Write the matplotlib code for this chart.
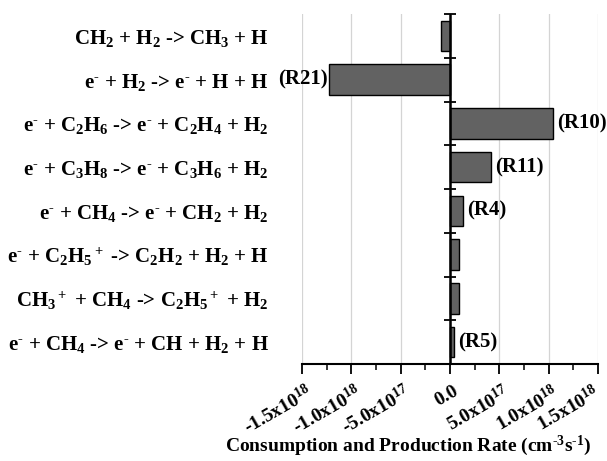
import matplotlib
matplotlib.use("Agg")
import matplotlib.pyplot as plt
import matplotlib.transforms as mtransforms
import numpy as np

plt.rcParams['font.family'] = ['Liberation Serif', 'DejaVu Serif']
plt.rcParams['font.weight'] = 'bold'
plt.rcParams['mathtext.fontset'] = 'custom'
plt.rcParams['mathtext.rm'] = 'Liberation Serif:bold'
plt.rcParams['mathtext.it'] = 'Liberation Serif:bold'
plt.rcParams['mathtext.bf'] = 'Liberation Serif:bold'
plt.rcParams['mathtext.default'] = 'rm'

reactions = [
    r'CH$_2$ + H$_2$ -> CH$_3$ + H',
    r'e$^{\text{-}}$ + H$_2$ -> e$^{\text{-}}$ + H + H',
    r'e$^{\text{-}}$ + C$_2$H$_6$ -> e$^{\text{-}}$ + C$_2$H$_4$ + H$_2$',
    r'e$^{\text{-}}$ + C$_3$H$_8$ -> e$^{\text{-}}$ + C$_3$H$_6$ + H$_2$',
    r'e$^{\text{-}}$ + CH$_4$ -> e$^{\text{-}}$ + CH$_2$ + H$_2$',
    r'e$^{\text{-}}$ + C$_2$H$_5$$^+$ -> C$_2$H$_2$ + H$_2$ + H',
    r'CH$_3$$^+$ + CH$_4$ -> C$_2$H$_5$$^+$ + H$_2$',
    r'e$^{\text{-}}$ + CH$_4$ -> e$^{\text{-}}$ + CH + H$_2$ + H',
]
rates = [-0.09e18, -1.23e18, 1.04e18, 0.42e18, 0.13e18, 0.095e18, 0.095e18, 0.045e18]
tags = ['', '(R21)', '(R10)', '(R11)', '(R4)', '', '', '(R5)']

xticks = [-1.5e18, -1.0e18, -0.5e18, 0.0, 0.5e18, 1.0e18, 1.5e18]
xticklabels = [r'-1.5x10$^{18}$', r'-1.0x10$^{18}$', r'-5.0x10$^{17}$', '0.0',
               r'5.0x10$^{17}$', r'1.0x10$^{18}$', r'1.5x10$^{18}$']
xlabel = r'Consumption and Production Rate (cm$^{\text{-}3}$s$^{\text{-}1}$)'

fig = plt.figure(figsize=(6.07, 4.61), dpi=100)
ax = fig.add_axes([302/607, 1-364/461, 296/607, 350/461])

pos = np.arange(len(reactions))
ax.barh(pos, rates, height=0.7, color='#626262', edgecolor='black', linewidth=1.0, zorder=3)

ax.set_xlim(-1.5e18, 1.5e18)
ax.set_ylim(len(reactions) - 0.5, -0.5)

ax.set_xticks(xticks)
ax.set_xticklabels(xticklabels, rotation=30, ha='right', va='top', rotation_mode='anchor', fontsize=14)
ax.set_xticks(np.arange(-1.5e18, 1.51e18, 0.25e18), minor=True)
ax.tick_params(axis='x', which='major', direction='out', length=7, width=1.3, pad=4)
ax.tick_params(axis='x', which='minor', direction='out', length=4, width=1.1)
ax.grid(axis='x', which='major', color='#d4d4d4', linewidth=0.9, zorder=0)

labs = ax.get_xticklabels()
for i, lab in enumerate(labs):
    dx = 3 if i < len(labs) - 1 else -5
    shift = mtransforms.ScaledTranslation(dx/100, -3/100, fig.dpi_scale_trans)
    lab.set_transform(lab.get_transform() + shift)

ax.set_yticks(pos)
ax.set_yticklabels(reactions, fontsize=15)
ax.tick_params(axis='y', which='both', length=0, pad=24)

for s in ['left', 'right', 'top']:
    ax.spines[s].set_visible(False)
ax.spines['bottom'].set_linewidth(1.5)
ax.axvline(0, color='black', linewidth=1.8, zorder=5)

sec = ax.secondary_yaxis(0.5)
sec.set_yticks(np.arange(-0.5, len(reactions), 1.0))
sec.set_yticklabels([])
sec.tick_params(direction='inout', length=9, width=1.3)

for p, v, t in zip(pos, rates, tags):
    if not t:
        continue
    if v < 0:
        ax.annotate(t, (v, p), xytext=(-1, 0), textcoords='offset points',
                    ha='right', va='center', fontsize=15, annotation_clip=False)
    else:
        ax.annotate(t, (v, p), xytext=(3, 0), textcoords='offset points',
                    ha='left', va='center', fontsize=15, annotation_clip=False)

fig.text(408/607, 1-446/461, xlabel, ha='center', va='center', fontsize=14)

fig.savefig('out.png', dpi=100)
